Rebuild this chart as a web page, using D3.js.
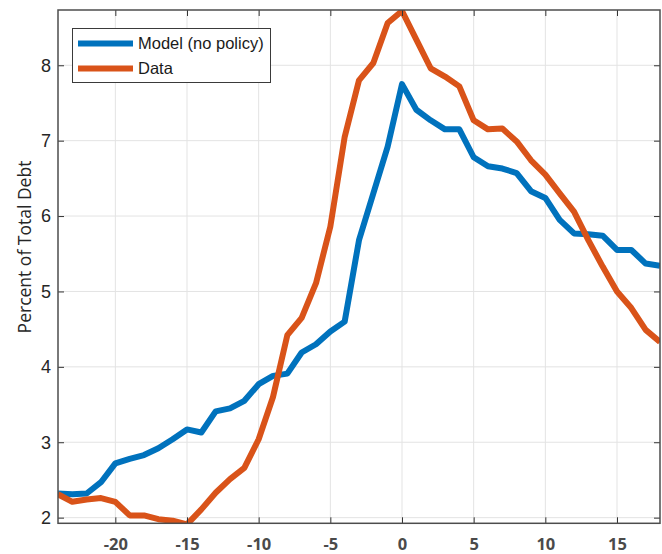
<!DOCTYPE html>
<html>
<head>
<meta charset="utf-8">
<script src="https://cdn.jsdelivr.net/npm/d3@7"></script>
<style>
  body { margin: 0; background: #fff; }
  svg { display: block; }
</style>
</head>
<body>
<div id="chart"></div>
<script>
// event time (periods relative to crisis)
var periods = [-24,-23,-22,-21,-20,-19,-18,-17,-16,-15,-14,-13,-12,-11,-10,-9,-8,-7,-6,-5,-4,-3,-2,-1,
               0,1,2,3,4,5,6,7,8,9,10,11,12,13,14,15,16,17,18];

var modelValues = [2.32,2.31,2.32,2.47,2.72,2.78,2.83,2.92,3.04,3.17,3.13,3.41,3.45,3.55,3.77,3.88,3.91,4.19,4.30,4.47,4.60,5.68,6.30,6.92,
                   7.75,7.41,7.27,7.15,7.15,6.78,6.66,6.63,6.57,6.33,6.24,5.95,5.77,5.76,5.74,5.55,5.55,5.37,5.34];

var dataValues = [2.31,2.21,2.24,2.26,2.21,2.03,2.03,1.98,1.96,1.91,2.11,2.33,2.51,2.66,3.04,3.60,4.42,4.65,5.11,5.86,7.05,7.80,8.03,8.56,
                  8.72,8.34,7.96,7.85,7.72,7.27,7.15,7.16,6.99,6.74,6.55,6.30,6.06,5.68,5.33,5.00,4.78,4.49,4.33];

var xTicks = [-20,-15,-10,-5,0,5,10,15];
var yTicks = [2,3,4,5,6,7,8];

var seriesNames = ["Model (no policy)", "Data"];
var seriesColors = ["#0072BD", "#D95319"];

var width = 662, height = 554;
var plot = {left: 58, right: 660, top: 10, bottom: 523.3};

var svg = d3.select("#chart")
            .append("svg")
                .attr("width", width)
                .attr("height", height);

var xScale = d3.scaleLinear()
                .domain([-24, 18])
                .range([plot.left, plot.right]);

var yScale = d3.scaleLinear()
                .domain([1.925, 8.733])
                .range([plot.bottom, plot.top]);

//grid lines
svg.append("g")
    .selectAll("line")
    .data(xTicks)
    .enter()
    .append("line")
        .attr("x1", function(d) { return xScale(d); })
        .attr("x2", function(d) { return xScale(d); })
        .attr("y1", plot.top)
        .attr("y2", plot.bottom)
        .attr("stroke", "#e3e3e3")
        .attr("stroke-width", 1);

svg.append("g")
    .selectAll("line")
    .data(yTicks)
    .enter()
    .append("line")
        .attr("x1", plot.left)
        .attr("x2", plot.right)
        .attr("y1", function(d) { return yScale(d); })
        .attr("y2", function(d) { return yScale(d); })
        .attr("stroke", "#e3e3e3")
        .attr("stroke-width", 1);

// clip lines to the axes box
svg.append("clipPath")
    .attr("id", "plot-clip")
    .append("rect")
        .attr("x", plot.left)
        .attr("y", plot.top)
        .attr("width", plot.right - plot.left)
        .attr("height", plot.bottom - plot.top);

var line = d3.line()
    .x(function(d) { return xScale(d[0]); })
    .y(function(d) { return yScale(d[1]); });

var series = [modelValues, dataValues];

svg.append("g")
    .attr("clip-path", "url(#plot-clip)")
    .selectAll("path")
    .data(series)
    .enter()
    .append("path")
        .attr("d", function(vals) { return line(d3.zip(periods, vals)); })
        .attr("fill", "none")
        .attr("stroke", function(d, i) { return seriesColors[i]; })
        .attr("stroke-width", 6)
        .attr("stroke-linejoin", "round");

//Add x-Axis (bottom with labels, top ticks only)
var xAxis = svg.append("g")
    .attr("transform", "translate(0," + plot.bottom + ")")
    .call(d3.axisBottom(xScale).tickValues(xTicks).tickFormat(d3.format("d"))
            .tickSizeInner(-6).tickSizeOuter(0).tickPadding(15));
xAxis.selectAll("text")
    .style("font-family", "'Open Sans', sans-serif")
    .style("font-weight", "700")
    .style("font-size", "16.5px")
    .attr("fill", "#4a4a4a")
    .text(function(d) { return d < 0 ? "-" + Math.abs(d) : d; });

svg.append("g")
    .attr("transform", "translate(0," + plot.top + ")")
    .call(d3.axisTop(xScale).tickValues(xTicks).tickFormat("")
            .tickSizeInner(-6).tickSizeOuter(0));

//Add y-Axis (left with labels, right ticks only)
var yAxis = svg.append("g")
    .attr("transform", "translate(" + plot.left + ",0)")
    .call(d3.axisLeft(yScale).tickValues(yTicks).tickFormat(d3.format("d"))
            .tickSizeInner(-6).tickSizeOuter(0).tickPadding(7));
yAxis.selectAll("text")
    .style("font-family", "'Liberation Sans', Arial, sans-serif")
    .style("font-size", "18px")
    .attr("fill", "#262626");

svg.append("g")
    .attr("transform", "translate(" + plot.right + ",0)")
    .call(d3.axisRight(yScale).tickValues(yTicks).tickFormat("")
            .tickSizeInner(-6).tickSizeOuter(0));

svg.selectAll(".domain").remove();
svg.selectAll(".tick line").attr("stroke", "#333").attr("stroke-width", 1);

// axes box
svg.append("rect")
    .attr("x", plot.left)
    .attr("y", plot.top)
    .attr("width", plot.right - plot.left)
    .attr("height", plot.bottom - plot.top)
    .attr("fill", "none")
    .attr("stroke", "#4d4d4d")
    .attr("stroke-width", 1.5);

// y label
svg.append("text")
    .attr("transform", "translate(25," + 247 + ") rotate(-90)")
    .attr("text-anchor", "middle")
    .attr("dy", "0.35em")
    .style("font-family", "'Open Sans', sans-serif")
    .style("font-size", "17.5px")
    .attr("fill", "#262626")
    .text("Percent of Total Debt");

// legend
var legend = svg.append("g");
legend.append("rect")
    .attr("x", 72.5)
    .attr("y", 28.5)
    .attr("width", 198)
    .attr("height", 54)
    .attr("fill", "#fff")
    .attr("stroke", "#3a3a3a")
    .attr("stroke-width", 1);

var items = legend.selectAll("g")
    .data(seriesNames)
    .enter()
    .append("g")
        .attr("transform", function(d, i) { return "translate(0," + (43.5 + i * 25) + ")"; });

items.append("line")
    .attr("x1", 78)
    .attr("x2", 133)
    .attr("stroke", function(d, i) { return seriesColors[i]; })
    .attr("stroke-width", 6);

items.append("text")
    .attr("x", 138)
    .attr("dy", "0.36em")
    .style("font-family", "'Liberation Sans', Arial, sans-serif")
    .style("font-size", "16.5px")
    .attr("fill", "#1a1a1a")
    .text(function(d) { return d; });
</script>
</body>
</html>
